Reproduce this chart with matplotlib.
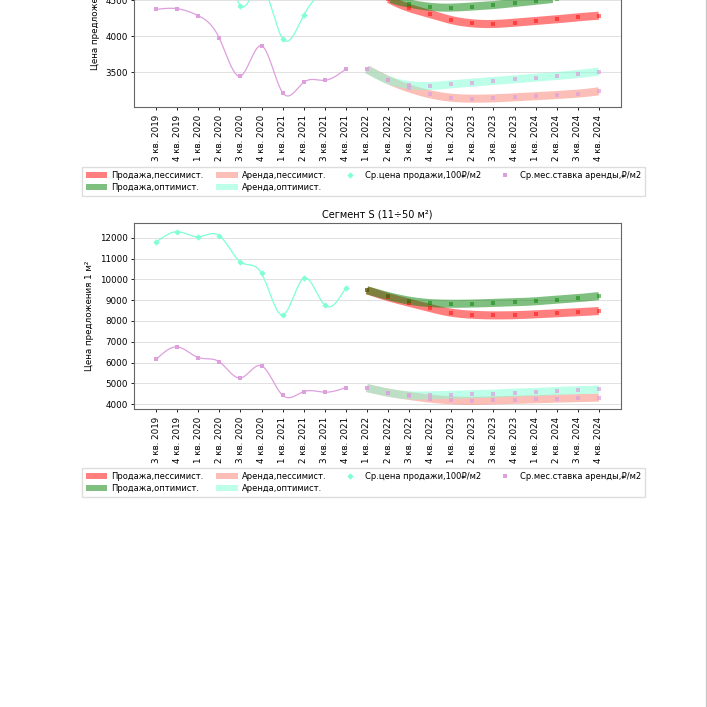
#!/usr/bin/python
# -*- coding: utf-8 -*-

# Прогноз цен предложения по сегментам (страница отчёта)

import numpy as np
import matplotlib
matplotlib.use('Agg')
import matplotlib.pyplot as plt
from matplotlib.patches import Patch
from matplotlib.lines import Line2D

plt.rcParams['font.family'] = ['DejaVu Sans', 'Noto Sans']

quarters = ['3 кв. 2019', '4 кв. 2019',
            '1 кв. 2020', '2 кв. 2020', '3 кв. 2020', '4 кв. 2020',
            '1 кв. 2021', '2 кв. 2021', '3 кв. 2021', '4 кв. 2021',
            '1 кв. 2022', '2 кв. 2022', '3 кв. 2022', '4 кв. 2022',
            '1 кв. 2023', '2 кв. 2023', '3 кв. 2023', '4 кв. 2023',
            '1 кв. 2024', '2 кв. 2024', '3 кв. 2024', '4 кв. 2024']
n_hist = 10

# верхний график (обрезан сверху)
top_sale_hist = [5380, 5450, 5400, 5420, 4420, 4700, 3963, 4287, 4650, 4900]
top_rent_hist = [4370, 4380, 4282, 3968, 3444, 3865, 3213, 3357, 3385, 3542]
top_sale_pess = [4700, 4520, 4390, 4305, 4222, 4176, 4167, 4185, 4208, 4232, 4260, 4282]
top_sale_opt  = [4700, 4530, 4450, 4405, 4395, 4410, 4430, 4460, 4490, 4520, 4550, 4580]
top_rent_pess = [3537, 3389, 3273, 3190, 3143, 3130, 3134, 3148, 3162, 3180, 3199, 3232]
top_rent_opt  = [3537, 3389, 3319, 3305, 3329, 3352, 3375, 3398, 3421, 3444, 3472, 3505]

# Сегмент S (11÷50 м²)
s_sale_hist = [11800, 12300, 12060, 12110, 10840, 10290, 8290, 10060, 8760, 9610]
s_rent_hist = [6150, 6750, 6240, 6030, 5250, 5840, 4420, 4600, 4570, 4790]
s_sale_pess = [9480, 9150, 8880, 8620, 8400, 8300, 8270, 8280, 8320, 8370, 8420, 8480]
s_sale_opt  = [9480, 9200, 8980, 8860, 8830, 8840, 8870, 8900, 8950, 9030, 9100, 9200]
s_rent_pess = [4770, 4550, 4390, 4260, 4180, 4150, 4180, 4200, 4230, 4260, 4280, 4310]
s_rent_opt  = [4770, 4550, 4420, 4420, 4450, 4480, 4500, 4550, 4580, 4630, 4660, 4700]

FS = 6.3
W = 707.0


def smooth(x, y, n=300):
    # natural cubic spline, only for drawing the curve through the points
    x = np.asarray(x, float)
    y = np.asarray(y, float)
    m = len(x)
    h = np.diff(x)
    A = np.zeros((m, m))
    b = np.zeros(m)
    A[0, 0] = A[-1, -1] = 1
    for i in range(1, m - 1):
        A[i, i - 1] = h[i - 1]
        A[i, i] = 2 * (h[i - 1] + h[i])
        A[i, i + 1] = h[i]
        b[i] = 3 * ((y[i + 1] - y[i]) / h[i] - (y[i] - y[i - 1]) / h[i - 1])
    c = np.linalg.solve(A, b)
    bb = (y[1:] - y[:-1]) / h - h * (2 * c[:-1] + c[1:]) / 3
    d = (c[1:] - c[:-1]) / (3 * h)
    xs = np.linspace(x[0], x[-1], n)
    k = np.clip(np.searchsorted(x, xs) - 1, 0, m - 2)
    dx = xs - x[k]
    return xs, y[k] + bb[k] * dx + c[k] * dx ** 2 + d[k] * dx ** 3


def panel(ax, sale_hist, rent_hist, sale_pess, sale_opt, rent_pess, rent_opt, ylim, yticks):
    xh = np.arange(n_hist)
    xf = np.arange(n_hist, len(quarters))

    # прогнозные полосы
    for vals, col, mcol, malpha in [(sale_pess, 'red', 'red', 0.5),
                                    (sale_opt, 'green', 'green', 0.5),
                                    (rent_pess, 'salmon', 'plum', 0.7),
                                    (rent_opt, 'aquamarine', 'plum', 0.7)]:
        xs, ys = smooth(xf, vals)
        ax.plot(xs, ys, color=col, alpha=0.5, lw=5.8, solid_capstyle='butt', zorder=2)
        ax.plot(xf, vals, ls='none', marker='s', ms=3.3, mew=0, color=mcol, alpha=malpha, zorder=3)

    # история
    xs, ys = smooth(xh, sale_hist)
    ax.plot(xs, ys, color='aquamarine', lw=0.9, zorder=2)
    ax.plot(xh, sale_hist, ls='none', marker='D', ms=3.2, mew=0, color='aquamarine', zorder=3)
    xs, ys = smooth(xh, rent_hist)
    ax.plot(xs, ys, color='plum', lw=0.9, zorder=2)
    ax.plot(xh, rent_hist, ls='none', marker='s', ms=3.3, mew=0, color='plum', zorder=3)

    ax.set_xlim(-1.05, len(quarters) - 1 + 1.05)
    ax.set_ylim(*ylim)
    ax.set_xticks(np.arange(len(quarters)))
    ax.set_xticklabels(quarters, rotation=90, fontsize=FS)
    ax.set_yticks(yticks)
    ax.tick_params(axis='y', labelsize=FS, length=2.5, width=0.6, pad=2)
    ax.tick_params(axis='x', length=2.5, width=0.6, pad=3)
    ax.grid(axis='y', color='#dcdcdc', lw=0.6)
    ax.set_axisbelow(True)
    for sp in ax.spines.values():
        sp.set_color('#666666')
        sp.set_linewidth(0.8)
    ax.set_ylabel('Цена предложения 1 м²', fontsize=FS, labelpad=4)


def legend(ax, fig, ytop):
    handles = [Patch(facecolor='red', alpha=0.5, lw=0),
               Patch(facecolor='green', alpha=0.5, lw=0),
               Patch(facecolor='salmon', alpha=0.5, lw=0),
               Patch(facecolor='aquamarine', alpha=0.5, lw=0),
               Line2D([], [], ls='none', marker='D', ms=3.2, mew=0, color='aquamarine'),
               Line2D([], [], ls='none', marker='s', ms=3.3, mew=0, color='plum')]
    labels = ['Продажа,пессимист.', 'Продажа,оптимист.',
              'Аренда,пессимист.', 'Аренда,оптимист.',
              'Ср.цена продажи,100₽/м2', 'Ср.мес.ставка аренды,₽/м2']
    ax.legend(handles, labels, ncol=4, loc='upper left',
              bbox_to_anchor=(82 / W, 1 - ytop / W), bbox_transform=fig.transFigure,
              fontsize=6.0, handlelength=2.6, handleheight=0.8, labelspacing=0.4,
              columnspacing=1.5, handletextpad=0.5, borderpad=0.45, borderaxespad=0,
              fancybox=False, edgecolor='#dddddd', framealpha=1)


def main():
    fig = plt.figure(figsize=(7.07, 7.07), dpi=100)
    fig.patch.set_facecolor('white')

    left = 134 / W
    width = (621 - 134) / W

    # верхний сегмент, выходит за верх страницы
    ax1 = fig.add_axes([left, 1 - 107 / W, width, 184 / W])
    panel(ax1, top_sale_hist, top_rent_hist, top_sale_pess, top_sale_opt,
          top_rent_pess, top_rent_opt, (3014, 5570), [3500, 4000, 4500])
    legend(ax1, fig, 167)

    # Сегмент S
    ax2 = fig.add_axes([left, 1 - 409 / W, width, 186 / W])
    panel(ax2, s_sale_hist, s_rent_hist, s_sale_pess, s_sale_opt,
          s_rent_pess, s_rent_opt, (3760, 12720), np.arange(4000, 12001, 1000))
    ax2.set_title('Сегмент S (11÷50 м²)', fontsize=7, pad=4)
    legend(ax2, fig, 468)

    # граница страницы справа
    fig.add_artist(Line2D([706 / W, 706 / W], [0, 1], color='#c8c8c8', lw=1.0))

    fig.savefig('out.png', dpi=100, facecolor='white')


if __name__ == '__main__':
    main()
